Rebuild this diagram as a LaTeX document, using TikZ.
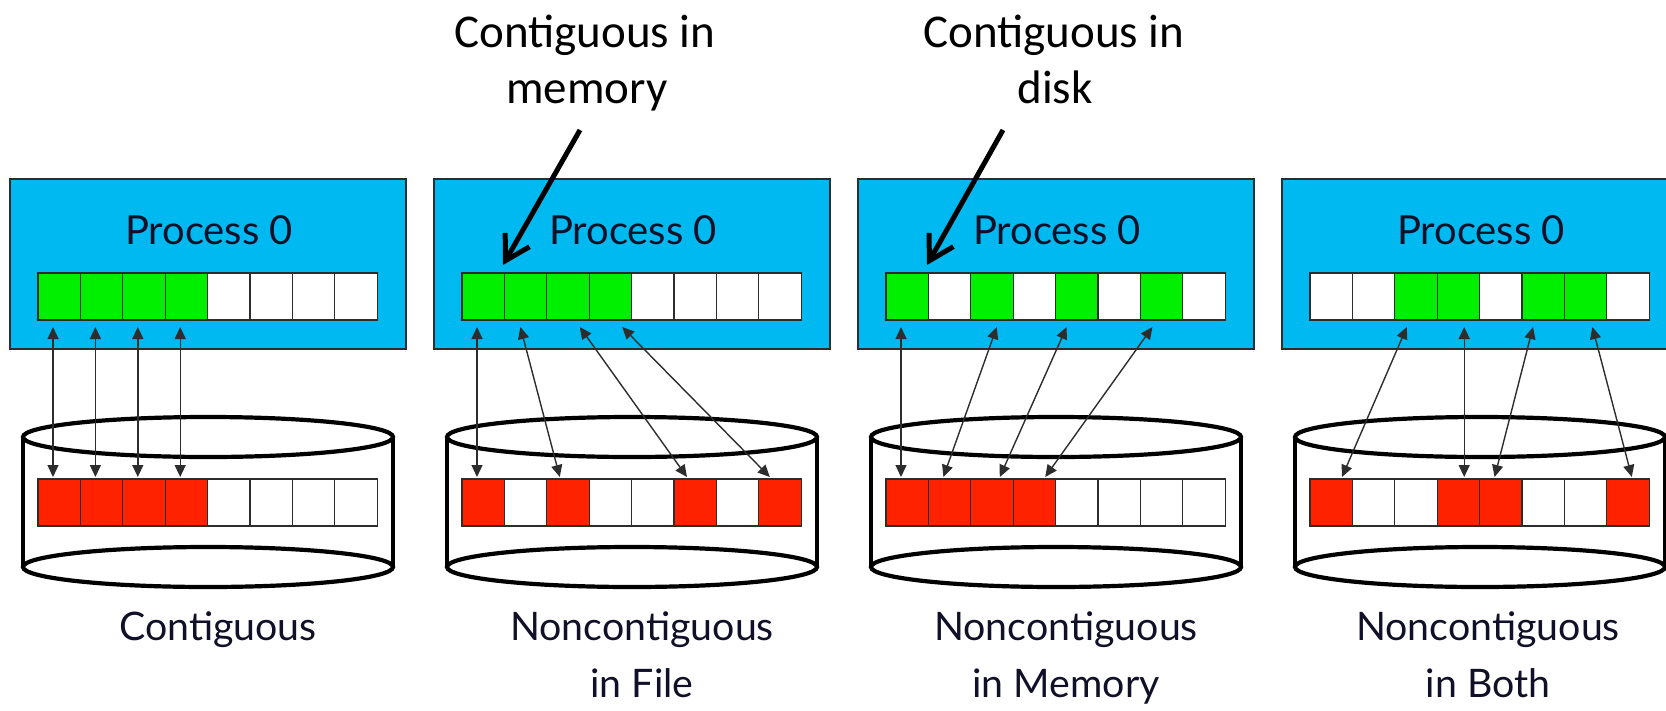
\documentclass[tikz,border=0pt]{standalone}
\usepackage{fontspec}
\setmainfont{Lato}
\newfontfamily\calloutfont{Carlito}
\usetikzlibrary{arrows.meta}

\definecolor{procblue}{RGB}{0,185,240}
\definecolor{memgreen}{RGB}{0,240,0}
\definecolor{diskred}{RGB}{255,34,0}
\definecolor{inkgray}{RGB}{45,45,45}
\definecolor{labelink}{RGB}{16,16,40}

\begin{document}
\begin{tikzpicture}[x=1pt,y=-1pt,
  procbox/.style={draw=inkgray, line width=1.5pt, fill=procblue,
    minimum width=396pt, minimum height=170pt, inner sep=0pt, outer sep=0pt},
  cell/.style={draw=inkgray, line width=1.3pt,
    minimum width=42.4pt, minimum height=47pt, inner sep=0pt, outer sep=0pt},
  disk/.style={draw=black, line width=4.2pt},
  link/.style={draw=inkgray, line width=1.4pt,
    {Triangle[length=12pt,width=11pt]}-{Triangle[length=12pt,width=11pt]}},
  proclabel/.style={font=\fontsize{40}{48}\selectfont, text=labelink, inner sep=0pt, anchor=base},
  caption/.style={font=\fontsize{39.3}{48}\selectfont, text=labelink, inner sep=0pt, anchor=base},
  callout/.style={font=\calloutfont\fontsize{47}{56}\selectfont, text=black, inner sep=0pt, anchor=base},
  callarrow/.style={draw=black, line width=5pt, -{Straight Barb[length=24pt,width=28pt]}}
]
\useasboundingbox (0,0) rectangle (1666,710);

% process boxes with their titles
\foreach \k in {0,...,3}{
  \node[procbox] (box\k) at ({208+424*\k},264) {};
  \node[proclabel] (title\k) at ({209+424*\k},244) {Process 0};
}

% disks drawn as cylinders
\foreach \k in {0,...,3}{
  \pgfmathsetmacro{\cx}{208+424*\k}
  \draw[disk] (\cx,437) ellipse [x radius=185pt, y radius=20pt];
  \draw[disk] (\cx,567) ellipse [x radius=185pt, y radius=20pt];
  \draw[disk] ({\cx-185},437) -- ({\cx-185},567);
  \draw[disk] ({\cx+185},437) -- ({\cx+185},567);
}

% memory buffers (top) and file blocks (bottom)
\foreach \k/\toplist/\botlist in {
  0/{memgreen,memgreen,memgreen,memgreen,white,white,white,white}/{diskred,diskred,diskred,diskred,white,white,white,white},
  1/{memgreen,memgreen,memgreen,memgreen,white,white,white,white}/{diskred,white,diskred,white,white,diskred,white,diskred},
  2/{memgreen,white,memgreen,white,memgreen,white,memgreen,white}/{diskred,diskred,diskred,diskred,white,white,white,white},
  3/{white,white,memgreen,memgreen,white,memgreen,memgreen,white}/{diskred,white,white,diskred,diskred,white,white,diskred}}{
  \foreach \c [count=\i from 0] in \toplist
    \node[cell, fill=\c] (t\k-\i) at ({59.2+42.4*\i+424*\k},296.5) {};
  \foreach \c [count=\i from 0] in \botlist
    \node[cell, fill=\c] (b\k-\i) at ({59.2+42.4*\i+424*\k},502.5) {};
}

% transfers between memory and file
\foreach \k/\ti/\tx/\bi/\bx in {
  0/0/15/0/15, 0/1/15/1/15, 0/2/15/2/15, 0/3/15/3/15,
  1/0/15/0/15, 1/1/16/2/13, 1/2/33/5/13, 1/3/33/7/11,
  2/0/15/0/15, 2/2/26/1/15, 2/4/11/2/29, 2/6/12/3/32,
  3/2/12/0/32, 3/3/27/3/27, 3/5/11/4/15, 3/6/28/7/25}{
  \draw[link] ([xshift=\tx pt, yshift=-7pt]t\k-\ti.south west)
           -- ([xshift=\bx pt, yshift=2pt]b\k-\bi.north west);
}

% captions under the disks
\node[caption] (cap0) at (218,640) {Contiguous};
\node[caption] (cap1a) at (642,640) {Noncontiguous};
\node[caption] (cap1b) at (642,697) {in File};
\node[caption] (cap2a) at (1066,640) {Noncontiguous};
\node[caption] (cap2b) at (1066,697) {in Memory};
\node[caption] (cap3a) at (1488,640) {Noncontiguous};
\node[caption] (cap3b) at (1488,697) {in Both};

% callouts
\node[callout] (memA) at (585,47) {Contiguous in};
\node[callout] (memB) at (587,103) {memory};
\node[callout] (dskA) at (1054,47) {Contiguous in};
\node[callout] (dskB) at (1055,103) {disk};
\coordinate (memTail) at (580,130);
\coordinate (memHead) at (503,265);
\coordinate (dskTail) at (1003,130);
\coordinate (dskHead) at (927,265);
\draw[callarrow] (memTail) -- (memHead);
\draw[callarrow] (dskTail) -- (dskHead);
\end{tikzpicture}
\end{document}
